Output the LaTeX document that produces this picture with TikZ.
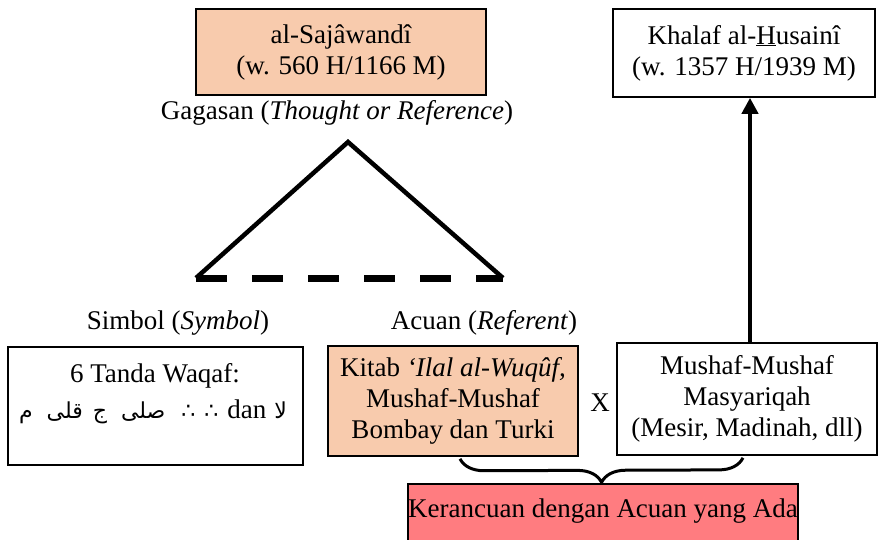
\documentclass[tikz,border=0pt]{standalone}
\usepackage{fontspec}
\setmainfont{Liberation Serif}
\newfontfamily\arabicfont[Script=Arabic]{DejaVu Sans}
\TeXXeTstate=1
\usetikzlibrary{arrows.meta,decorations.pathreplacing,calc}
\definecolor{peach}{HTML}{F8CBAD}
\definecolor{salmon}{HTML}{FF7C80}
\newcommand{\ar}[1]{{\arabicfont\fontsize{22}{26}\selectfont\beginR #1\endR}}
\tikzset{
  box/.style={draw=black, line width=1.6pt, align=center, inner sep=0pt,
    font=\fontsize{27}{31}\selectfont},
  lbl/.style={inner sep=0pt, align=center, font=\fontsize{27}{31}\selectfont},
  side/.style={line width=4.5pt, line join=miter},
  base/.style={line width=7pt, dash pattern=on 31pt off 25pt},
}
\begin{document}
\begin{tikzpicture}[x=1pt,y=-1pt]
\clip (0,0) rectangle (878,539);
\fill[white] (0,0) rectangle (878,539);

% upper row
\node[box, fill=peach, minimum width=290pt, minimum height=86pt] (saj) at (341,52)
  {al-Sajâwandî\\(w. 560 H/1166 M)};
\node[box, fill=white, minimum width=262pt, minimum height=88pt] (khalaf) at (744,53)
  {Khalaf al-\underline{H}usainî\\(w. 1357 H/1939 M)};
\node[lbl] (gagasan) at (337,113) {Gagasan (\textit{Thought or Reference})};

% semiotic triangle
\coordinate (apex) at (348,142);
\coordinate (bl) at (196,278);
\coordinate (br) at (503,278);
\draw[side] (bl) -- (apex) -- (br);
\draw[base] (bl) -- (br);

\node[lbl] (simbol) at (178,323) {Simbol (\textit{Symbol})};
\node[lbl] (acuan) at (484,323) {Acuan (\textit{Referent})};

% lower row
\node[box, fill=white, minimum width=295pt, minimum height=118pt] (waqaf) at (155.5,406) {};
\node[lbl] (waqaft) at (155,376) {6 Tanda Waqaf:};
\node[lbl, anchor=base] (signs) at (153,418)
  {\ar{م}\hspace{14pt}\ar{قلى}\hspace{10pt}\ar{ج}\hspace{14pt}\ar{صلى}\hspace{16pt}\ar{∴}\hspace{9pt}\ar{∴}\hspace{9pt}dan\hspace{8pt}\ar{لا}};

\node[box, fill=peach, minimum width=250pt, minimum height=110pt] (kitab) at (453,401)
  {Kitab \textit{‘Ilal al-Wuqûf,}\\Mushaf-Mushaf\\Bombay dan Turki};
\node[lbl] (x) at (600,403) {X};
\node[box, fill=white, minimum width=260pt, minimum height=112pt] (masy) at (747,399)
  {Mushaf-Mushaf\\Masyariqah\\(Mesir, Madinah, dll)};

% arrow from the Masyariqah mushafs up to al-Husaini
\coordinate (afoot) at ($(masy.north)+(3,0)$);
\coordinate (ahead) at (afoot |- khalaf.south);
\draw[line width=4pt, -{Triangle[width=16pt,length=16pt]}] (afoot) -- (ahead);

% brace joining the two referents
\draw[line width=3pt, decorate, decoration={brace, mirror, amplitude=24pt}]
  ($(kitab.south)+(7,2)$) -- ($(masy.south)+(-4,2)$);

\node[box, fill=salmon, minimum width=390pt, minimum height=62pt,
  text height=13pt, text depth=8pt] (keran) at (603,515)
  {Kerancuan dengan Acuan yang Ada};
\end{tikzpicture}
\end{document}
